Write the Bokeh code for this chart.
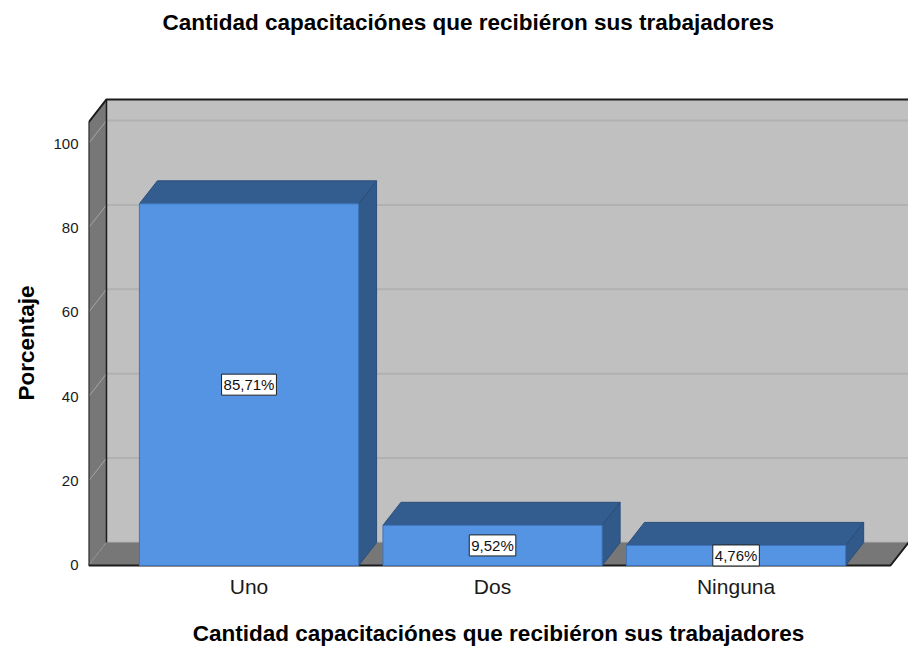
import math
from bokeh.plotting import figure
from bokeh.models import Range1d, FixedTicker, Label, ColumnDataSource, Title
from bokeh.embed import file_html
from bokeh.resources import INLINE

# ---- data ----
categories = ["Uno", "Dos", "Ninguna"]
percentages = [85.71, 9.52, 4.76]
value_labels = ["85,71%", "9,52%", "4,76%"]
y_ticks = [0, 20, 40, 60, 80, 100]

title_text = "Cantidad capacitaciónes que recibiéron sus trabajadores"
x_title = "Cantidad capacitaciónes que recibiéron sus trabajadores"
y_title = "Porcentaje"

# ---- geometry of the pseudo-3D box (axis units) ----
X0, X1 = 0.341, 3.708          # x range (category slots at 1, 2, 3)
Y0, Y1 = -0.711, 111.14        # y range
DX, DY = 0.0739, 5.45          # depth offset
WALL_TOP = 105
FLOOR_RIGHT = X1 - DX
BAR_W = 0.9

FONT = "Liberation Sans"
TITLE_SIZE = "22.5px"

p = figure(width=908, height=648, x_range=Range1d(X0, X1), y_range=Range1d(Y0, Y1),
           output_backend="svg", toolbar_location=None, title=None,
           min_border_left=88, min_border_right=0, min_border_top=96, min_border_bottom=80)

# spacer (closest to the frame) + real title (outer)
p.add_layout(Title(text=" ", text_font=FONT, text_font_size=TITLE_SIZE, standoff=31), "above")
p.add_layout(Title(text=title_text, align="left", offset=74, vertical_align="bottom",
                   text_font=FONT, text_font_style="bold", text_font_size=TITLE_SIZE,
                   text_color="black", standoff=8), "above")

p.outline_line_color = None
p.xgrid.visible = False
p.ygrid.visible = False
p.background_fill_color = "white"
p.border_fill_color = "white"

# back wall
bx0 = X0 + DX
p.patch([bx0, X1, X1, bx0], [DY, DY, WALL_TOP + DY, WALL_TOP + DY],
        fill_color="#c0c0c0", line_color=None)
p.multi_line([[bx0, X1] for t in y_ticks], [[t + DY, t + DY] for t in y_ticks],
             line_color="#b1b1b1", line_width=2)
# side wall
p.patch([X0, X0, bx0, bx0], [0, WALL_TOP, WALL_TOP + DY, DY],
        fill_color="#777777", line_color=None)
p.multi_line([[X0, bx0] for t in y_ticks], [[t, t + DY] for t in y_ticks],
             line_color="#a6a6a6", line_width=1)
# floor
p.patch([X0, FLOOR_RIGHT, X1, bx0], [0, 0, DY, DY],
        fill_color="#777777", line_color=None)
# edges
p.line([X0, X0, bx0, X1], [0, WALL_TOP, WALL_TOP + DY, WALL_TOP + DY],
       line_color="#1c1c1c", line_width=2)
p.line([bx0, bx0], [DY, WALL_TOP + DY], line_color="#1c1c1c", line_width=1.5)
p.line([X0, FLOOR_RIGHT, X1], [0, 0, DY], line_color="#1c1c1c", line_width=2)

# bars
xs = [i + 1 for i in range(len(categories))]
side_xs, side_ys, top_xs, top_ys = [], [], [], []
for x, v in zip(xs, percentages):
    l, r = x - BAR_W / 2, x + BAR_W / 2
    side_xs.append([r, r + DX, r + DX, r])
    side_ys.append([0, DY, v + DY, v])
    top_xs.append([l, r, r + DX, l + DX])
    top_ys.append([v, v, v + DY, v + DY])
p.patches(side_xs, side_ys, fill_color="#315a8b", line_color="#2a4e7b", line_width=1)
p.patches(top_xs, top_ys, fill_color="#345d8f", line_color="#2a4e7b", line_width=1)
src = ColumnDataSource(dict(x=xs, top=percentages))
p.vbar(x="x", top="top", bottom=0, width=BAR_W, source=src,
       fill_color="#5494e3", line_color="#3f74b8", line_width=1)

# value labels
for x, v, t in zip(xs, percentages, value_labels):
    p.add_layout(Label(x=x, y=v / 2, text=t, text_align="center", text_baseline="middle",
                       text_font=FONT, text_font_size="15px", text_color="#111111",
                       background_fill_color="white", border_line_color="#222222",
                       border_line_width=1, padding=2))

# axes
p.xaxis.ticker = FixedTicker(ticks=xs)
p.xaxis.major_label_overrides = {x: c for x, c in zip(xs, categories)}
p.xaxis.major_label_text_font = FONT
p.xaxis.major_label_text_font_size = "21px"
p.xaxis.major_label_text_color = "#1a1a1a"
p.xaxis.major_label_standoff = 6
p.xaxis.axis_label = x_title
p.xaxis.axis_label_text_font = FONT
p.xaxis.axis_label_text_font_style = "bold"
p.xaxis.axis_label_text_font_size = TITLE_SIZE
p.xaxis.axis_label_text_color = "black"
p.xaxis.axis_label_standoff = 20
p.yaxis.ticker = FixedTicker(ticks=y_ticks)
p.yaxis.major_label_text_font = FONT
p.yaxis.major_label_text_font_size = "15px"
p.yaxis.major_label_text_color = "#1a1a1a"
p.yaxis.major_label_standoff = 10
for ax in (p.xaxis[0], p.yaxis[0]):
    ax.axis_line_color = None
    ax.major_tick_line_color = None
    ax.minor_tick_line_color = None
    ax.major_tick_in = 0
    ax.major_tick_out = 0

# y axis title as a side title for exact vertical placement
p.add_layout(Title(text=y_title, align="left", offset=168, vertical_align="top",
                   text_font=FONT, text_font_style="bold", text_font_size=TITLE_SIZE,
                   text_color="black", standoff=20), "left")

open("out.html", "w").write(file_html(p, INLINE))
